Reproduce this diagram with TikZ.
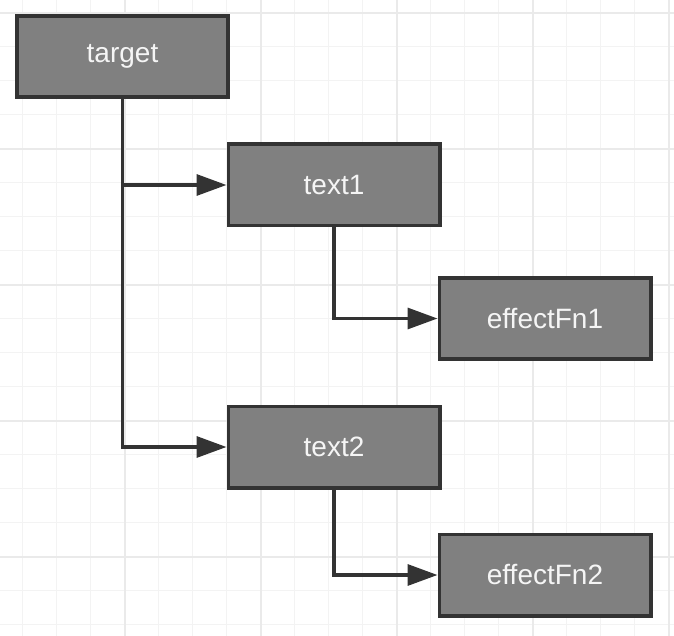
\documentclass[tikz,border=0pt]{standalone}
\usepackage{fontspec}
\setmainfont{Liberation Sans}
\usepackage{tikz}
\usetikzlibrary{arrows.meta,positioning}
\definecolor{boxgray}{HTML}{808080}
\definecolor{boxedge}{HTML}{333333}
\definecolor{gridminor}{HTML}{F3F3F3}
\definecolor{gridmajor}{HTML}{EAEAEA}
\tikzset{
  box/.style={draw=boxedge, fill=boxgray, line width=3.6pt, minimum width=211.4pt, minimum height=81.4pt,
    inner sep=0pt, text=white!96!black, font=\fontsize{28}{31}\selectfont},
  link/.style={draw=boxedge, line width=3.3pt, -{Triangle[length=30pt,width=21pt]}},
  minorline/.style={draw=gridminor, line width=1.4pt},
  majorline/.style={draw=gridmajor, line width=2pt}
}
\begin{document}
\begin{tikzpicture}[x=1pt,y=-1pt]
\fill[white] (0,0) rectangle (674,636);
\useasboundingbox (0,0) rectangle (674,636);
%background grid
\foreach \k in {0,...,19} {\draw[minorline] (22.7+34*\k,0) -- (22.7+34*\k,636);}
\foreach \k in {0,...,18} {\draw[minorline] (0,12.7+34*\k) -- (674,12.7+34*\k);}
\foreach \k in {0,...,4} {\draw[majorline] (124.7+136*\k,0) -- (124.7+136*\k,636);}
\foreach \k in {0,...,4} {\draw[majorline] (0,12.7+136*\k) -- (674,12.7+136*\k);}
%boxes
\node[box] (target) at (122.5,56.5) {target};
\node[box] (text1) at (334,185) {text1};
\node[box] (effectFn1) at (545,318.5) {effectFn1};
\node[box] (text2) at (334,447) {text2};
\node[box] (effectFn2) at (545,575) {effectFn2};
%connectors
\draw[link] (target.south) |- (text1.west);
\draw[link] (target.south) |- (text2.west);
\draw[link] (text1.south) |- (effectFn1.west);
\draw[link] (text2.south) |- (effectFn2.west);
\end{tikzpicture}
\end{document}
